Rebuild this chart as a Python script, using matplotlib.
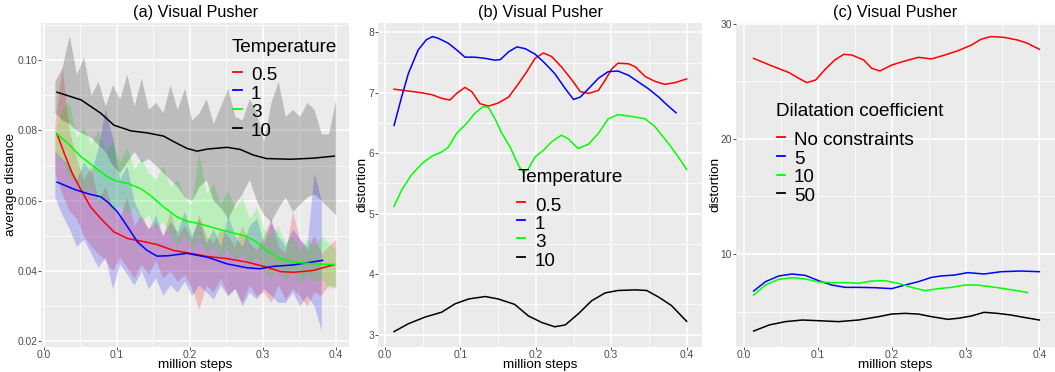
import numpy as np
import matplotlib
matplotlib.use("Agg")
import matplotlib.pyplot as plt
from matplotlib.lines import Line2D
from matplotlib.ticker import FixedLocator

plt.rcParams['font.family'] = ['Liberation Sans', 'DejaVu Sans']

W, H = 1055, 372

# ---------------- data ----------------
temp_labels = ['0.5', '1', '3', '10']
temp_colors = ['#FF0000', '#0000FF', '#00FF00', '#000000']
dil_labels = ['No constraints', '5', '10', '50']
dil_colors = ['#FF0000', '#0000FF', '#00FF00', '#000000']

# panel (a): ribbons (raw spread) on a common step grid
rib_steps = np.linspace(0.015, 0.4, 40)
rib_red_hi = [0.082, 0.098, 0.080, 0.072, 0.066, 0.070, 0.060, 0.064, 0.058, 0.055,
              0.061, 0.053, 0.056, 0.052, 0.054, 0.050, 0.057, 0.050, 0.053, 0.049,
              0.056, 0.050, 0.048, 0.052, 0.050, 0.047, 0.053, 0.048, 0.046, 0.050,
              0.055, 0.047, 0.045, 0.057, 0.049, 0.046, 0.050, 0.045, 0.047, 0.049]
rib_red_lo = [0.068, 0.062, 0.057, 0.055, 0.050, 0.047, 0.045, 0.043, 0.040, 0.044,
              0.041, 0.038, 0.042, 0.039, 0.043, 0.038, 0.040, 0.037, 0.039, 0.035,
              0.029, 0.036, 0.034, 0.038, 0.033, 0.035, 0.031, 0.036, 0.033, 0.034,
              0.031, 0.036, 0.032, 0.035, 0.033, 0.030, 0.034, 0.033, 0.036, 0.035]
rib_blue_hi = [0.074, 0.072, 0.070, 0.066, 0.071, 0.068, 0.075, 0.086, 0.078, 0.066,
               0.070, 0.060, 0.055, 0.052, 0.056, 0.050, 0.054, 0.051, 0.057, 0.050,
               0.055, 0.048, 0.052, 0.047, 0.056, 0.050, 0.047, 0.053, 0.055, 0.048,
               0.054, 0.050, 0.047, 0.052, 0.049, 0.047, 0.068, 0.060]
rib_blue_lo = [0.061, 0.056, 0.052, 0.047, 0.049, 0.045, 0.041, 0.044, 0.035, 0.042,
               0.039, 0.036, 0.040, 0.035, 0.038, 0.033, 0.036, 0.034, 0.037, 0.033,
               0.036, 0.034, 0.032, 0.036, 0.033, 0.035, 0.030, 0.034, 0.032, 0.035,
               0.033, 0.031, 0.031, 0.034, 0.030, 0.033, 0.030, 0.023]
rib_green_hi = [0.080, 0.086, 0.088, 0.078, 0.081, 0.076, 0.080, 0.074, 0.077, 0.071,
                0.075, 0.069, 0.072, 0.068, 0.066, 0.070, 0.064, 0.066, 0.061, 0.059,
                0.074, 0.062, 0.065, 0.059, 0.063, 0.058, 0.061, 0.055, 0.058, 0.052,
                0.050, 0.053, 0.048, 0.050, 0.046, 0.049, 0.047, 0.050, 0.048, 0.046]
rib_green_lo = [0.074, 0.071, 0.067, 0.065, 0.062, 0.064, 0.059, 0.061, 0.057, 0.059,
                0.056, 0.058, 0.054, 0.056, 0.052, 0.054, 0.050, 0.047, 0.050, 0.046,
                0.049, 0.045, 0.047, 0.044, 0.046, 0.043, 0.045, 0.042, 0.044, 0.040,
                0.038, 0.041, 0.037, 0.040, 0.036, 0.039, 0.037, 0.038, 0.035, 0.036]
rib_black_hi = [0.094, 0.098, 0.107, 0.096, 0.101, 0.090, 0.094, 0.087, 0.093, 0.089,
                0.096, 0.087, 0.095, 0.086, 0.088, 0.085, 0.093, 0.086, 0.092, 0.083,
                0.085, 0.089, 0.082, 0.087, 0.092, 0.084, 0.083, 0.089, 0.085, 0.077,
                0.088, 0.094, 0.084, 0.086, 0.084, 0.088, 0.086, 0.079, 0.079, 0.089]
rib_black_lo = [0.085, 0.083, 0.082, 0.080, 0.079, 0.078, 0.076, 0.074, 0.070, 0.068,
                0.071, 0.074, 0.071, 0.072, 0.070, 0.068, 0.066, 0.064, 0.061, 0.060,
                0.064, 0.066, 0.060, 0.058, 0.055, 0.059, 0.062, 0.066, 0.060, 0.056,
                0.054, 0.058, 0.061, 0.057, 0.059, 0.061, 0.062, 0.060, 0.058, 0.056]

# panel (a): smoothed lines
a_red_x = [0.018, 0.028, 0.039, 0.051, 0.064, 0.078, 0.096, 0.115, 0.133, 0.155,
           0.178, 0.196, 0.224, 0.251, 0.278, 0.305, 0.324, 0.342, 0.369, 0.398]
a_red_y = [0.0790, 0.0734, 0.0677, 0.0630, 0.0582, 0.0549, 0.0511, 0.0492, 0.0485, 0.0475,
           0.0458, 0.0452, 0.0441, 0.0435, 0.0425, 0.0411, 0.0398, 0.0396, 0.0401, 0.0418]
a_blue_x = [0.018, 0.042, 0.060, 0.078, 0.088, 0.100, 0.110, 0.118, 0.128, 0.141,
            0.155, 0.170, 0.196, 0.224, 0.251, 0.278, 0.296, 0.315, 0.342, 0.382]
a_blue_y = [0.0653, 0.0632, 0.0620, 0.0611, 0.0595, 0.0570, 0.0540, 0.0515, 0.0483, 0.0459,
            0.0442, 0.0443, 0.0450, 0.0439, 0.0420, 0.0409, 0.0406, 0.0413, 0.0417, 0.0430]
a_green_x = [0.018, 0.033, 0.051, 0.069, 0.087, 0.099, 0.115, 0.133, 0.146, 0.164, 0.183,
             0.196, 0.214, 0.237, 0.260, 0.278, 0.292, 0.305, 0.324, 0.342, 0.369, 0.398]
a_green_y = [0.0790, 0.0763, 0.0725, 0.0696, 0.0668, 0.0656, 0.0649, 0.0634, 0.0615, 0.0582, 0.0553,
             0.0542, 0.0534, 0.0520, 0.0508, 0.0498, 0.0482, 0.0458, 0.0435, 0.0425, 0.0420, 0.0418]
a_black_x = [0.018, 0.051, 0.078, 0.096, 0.119, 0.142, 0.164, 0.178, 0.196, 0.210,
             0.224, 0.251, 0.269, 0.287, 0.305, 0.337, 0.369, 0.398]
a_black_y = [0.0909, 0.0887, 0.0849, 0.0815, 0.0799, 0.0793, 0.0784, 0.0768, 0.0749, 0.0741,
             0.0747, 0.0752, 0.0746, 0.0730, 0.0720, 0.0718, 0.0721, 0.0727]

# panel (b)
b_red_x = [0.012, 0.031, 0.049, 0.062, 0.075, 0.086, 0.095, 0.106, 0.115, 0.126, 0.137,
           0.150, 0.164, 0.177, 0.188, 0.199, 0.210, 0.221, 0.234, 0.248, 0.259, 0.270,
           0.283, 0.292, 0.301, 0.309, 0.323, 0.332, 0.345, 0.358, 0.371, 0.385, 0.400]
b_red_y = [7.06, 7.03, 7.00, 6.97, 6.91, 6.88, 6.99, 7.09, 7.02, 6.82, 6.78,
           6.83, 6.93, 7.15, 7.35, 7.57, 7.66, 7.60, 7.43, 7.21, 7.02, 6.99,
           7.04, 7.21, 7.40, 7.49, 7.48, 7.43, 7.27, 7.19, 7.14, 7.17, 7.23]
b_blue_x = [0.012, 0.022, 0.031, 0.044, 0.055, 0.063, 0.071, 0.084, 0.095, 0.106, 0.119,
            0.133, 0.146, 0.153, 0.164, 0.175, 0.186, 0.199, 0.212, 0.225, 0.239, 0.250,
            0.259, 0.270, 0.283, 0.296, 0.309, 0.323, 0.336, 0.349, 0.363, 0.374, 0.386]
b_blue_y = [6.46, 6.93, 7.32, 7.71, 7.88, 7.93, 7.90, 7.82, 7.71, 7.59, 7.59,
            7.57, 7.54, 7.55, 7.68, 7.76, 7.73, 7.64, 7.49, 7.32, 7.07, 6.89,
            6.93, 7.07, 7.24, 7.35, 7.36, 7.29, 7.18, 7.07, 6.93, 6.80, 6.67]
b_green_x = [0.012, 0.022, 0.035, 0.049, 0.062, 0.075, 0.084, 0.095, 0.108, 0.119, 0.130,
             0.137, 0.146, 0.155, 0.166, 0.177, 0.183, 0.190, 0.199, 0.210, 0.221, 0.234,
             0.243, 0.256, 0.270, 0.283, 0.296, 0.309, 0.327, 0.345, 0.358, 0.376, 0.389, 0.400]
b_green_y = [5.12, 5.39, 5.64, 5.83, 5.95, 6.02, 6.10, 6.33, 6.49, 6.66, 6.77,
             6.76, 6.57, 6.33, 6.10, 5.80, 5.69, 5.74, 5.94, 6.05, 6.19, 6.30,
             6.24, 6.08, 6.15, 6.33, 6.57, 6.64, 6.61, 6.57, 6.44, 6.16, 5.94, 5.73]
b_black_x = [0.012, 0.031, 0.053, 0.075, 0.093, 0.111, 0.133, 0.150, 0.172, 0.190, 0.208,
             0.225, 0.239, 0.256, 0.274, 0.292, 0.309, 0.332, 0.347, 0.363, 0.380, 0.400]
b_black_y = [3.05, 3.18, 3.29, 3.37, 3.51, 3.59, 3.63, 3.59, 3.50, 3.31, 3.20,
             3.13, 3.16, 3.34, 3.56, 3.69, 3.73, 3.74, 3.73, 3.62, 3.48, 3.22]

# panel (c)
c_red_x = [0.013, 0.038, 0.061, 0.074, 0.085, 0.097, 0.110, 0.123, 0.135, 0.146, 0.162,
           0.173, 0.184, 0.200, 0.218, 0.236, 0.254, 0.272, 0.290, 0.308, 0.321, 0.334,
           0.352, 0.370, 0.384, 0.400]
c_red_y = [27.0, 26.35, 25.77, 25.28, 24.9, 25.13, 26.06, 26.87, 27.36, 27.30, 26.87,
           26.14, 25.91, 26.43, 26.78, 27.10, 26.96, 27.30, 27.68, 28.17, 28.67, 28.90,
           28.84, 28.61, 28.32, 27.80]
c_blue_x = [0.013, 0.029, 0.047, 0.065, 0.083, 0.101, 0.119, 0.137, 0.155, 0.177, 0.200,
            0.218, 0.236, 0.254, 0.267, 0.285, 0.303, 0.325, 0.348, 0.375, 0.400]
c_blue_y = [6.78, 7.59, 8.09, 8.26, 8.14, 7.68, 7.30, 7.10, 7.10, 7.07, 6.99,
            7.30, 7.59, 7.97, 8.09, 8.17, 8.38, 8.26, 8.46, 8.52, 8.46]
c_green_x = [0.013, 0.029, 0.047, 0.065, 0.083, 0.101, 0.119, 0.141, 0.155, 0.173, 0.191,
             0.209, 0.227, 0.245, 0.263, 0.281, 0.299, 0.316, 0.334, 0.352, 0.370, 0.384]
c_green_y = [6.43, 7.30, 7.80, 7.94, 7.83, 7.57, 7.51, 7.51, 7.45, 7.65, 7.68,
             7.45, 7.10, 6.81, 6.99, 7.10, 7.30, 7.30, 7.16, 6.99, 6.81, 6.64]
c_black_x = [0.013, 0.034, 0.056, 0.079, 0.101, 0.128, 0.155, 0.182, 0.200, 0.218, 0.236,
             0.254, 0.276, 0.290, 0.308, 0.325, 0.343, 0.361, 0.379, 0.400]
c_black_y = [3.30, 3.83, 4.12, 4.26, 4.20, 4.12, 4.26, 4.55, 4.78, 4.84, 4.78,
             4.55, 4.32, 4.41, 4.61, 4.93, 4.84, 4.70, 4.49, 4.26]

x_ticks = [0.0, 0.1, 0.2, 0.3, 0.4]
x_ticklabels = ['0.0', '0.1', '0.2', '0.3', '0.4']
a_yticks = [0.02, 0.04, 0.06, 0.08, 0.10]
a_yticklabels = ['0.02', '0.04', '0.06', '0.08', '0.10']
b_yticks = [3, 4, 5, 6, 7, 8]
b_yticklabels = ['3', '4', '5', '6', '7', '8']
c_yticks = [10, 20, 30]
c_yticklabels = ['10', '20', '30']

# ---------------- figure ----------------
fig = plt.figure(figsize=(W / 100, H / 100), dpi=100)
fig.patch.set_facecolor('white')


def px_axes(x0, x1, y0, y1):
    return fig.add_axes([x0 / W, 1 - y1 / H, (x1 - x0) / W, (y1 - y0) / H])


ax_a = px_axes(41, 349.3, 22.7, 346.7)
ax_b = px_axes(378.3, 701.7, 22.7, 346.7)
ax_c = px_axes(735.7, 1054.5, 22.7, 346.7)

TICK_FS = 7.4
LAB_FS = 9.7
TITLE_FS = 11.7
LEG_FS = 13.6


def style(ax, xlim, ylim, yticks, yticklabels, xminor, yminor, ylabel, title, ylab_x):
    ax.set_facecolor('#EBEBEB')
    for s in ax.spines.values():
        s.set_visible(False)
    ax.set_xlim(*xlim)
    ax.set_ylim(*ylim)
    ax.set_xticks(x_ticks)
    ax.set_xticklabels(x_ticklabels)
    ax.set_yticks(yticks)
    ax.set_yticklabels(yticklabels)
    ax.xaxis.set_minor_locator(FixedLocator(xminor))
    ax.yaxis.set_minor_locator(FixedLocator(yminor))
    ax.grid(which='major', color='white', lw=1.1, zorder=0)
    ax.grid(which='minor', color='white', lw=0.55, zorder=0)
    ax.set_axisbelow(True)
    ax.tick_params(which='major', length=2.2, width=0.6, color='#333333',
                   labelsize=TICK_FS, labelcolor='#4D4D4D', pad=0.5)
    ax.tick_params(which='minor', length=0)
    ax.set_xlabel('million steps', fontsize=LAB_FS)
    ax.xaxis.label.set_verticalalignment('baseline')
    ax.xaxis.set_label_coords(0.5, (H - 367.7 - (H - 346.7)) / 324.0)
    ax.set_ylabel(ylabel, fontsize=LAB_FS)
    ax.yaxis.label.set_verticalalignment('baseline')
    ax.yaxis.set_label_coords(ylab_x, 0.5)
    ax.set_title(title, fontsize=TITLE_FS, pad=4.3)


style(ax_a, (-0.004, 0.4186), (0.0184, 0.1107), a_yticks, a_yticklabels,
      [0.05, 0.15, 0.25, 0.35], [0.03, 0.05, 0.07, 0.09, 0.11],
      'average distance', '(a) Visual Pusher', (14.3 - 41) / 308.3)
style(ax_b, (-0.0089, 0.42), (2.80, 8.16), b_yticks, b_yticklabels,
      [0.05, 0.15, 0.25, 0.35], [3.5, 4.5, 5.5, 6.5, 7.5],
      'distortion', '(b) Visual Pusher', (365.5 - 378.3) / 323.4)
style(ax_c, (-0.0113, 0.4205), (1.94, 30.11), c_yticks, c_yticklabels,
      [0.05, 0.15, 0.25, 0.35], [5, 15, 25],
      'distortion', '(c) Visual Pusher', (718 - 735.7) / 318.8)

# panel (a) ribbons
ribbons = [(rib_red_hi, rib_red_lo), (rib_blue_hi, rib_blue_lo),
           (rib_green_hi, rib_green_lo), (rib_black_hi, rib_black_lo)]
for (hi, lo), col in zip(ribbons, temp_colors):
    n = len(hi)
    ax_a.fill_between(rib_steps[:n], lo, hi, color=col, alpha=0.2, lw=0, zorder=2)

LW = 1.1
for xs, ys, col in zip([a_red_x, a_blue_x, a_green_x, a_black_x],
                       [a_red_y, a_blue_y, a_green_y, a_black_y], temp_colors):
    ax_a.plot(xs, ys, color=col, lw=LW, zorder=3)
for xs, ys, col in zip([b_red_x, b_blue_x, b_green_x, b_black_x],
                       [b_red_y, b_blue_y, b_green_y, b_black_y], temp_colors):
    ax_b.plot(xs, ys, color=col, lw=LW, zorder=3)
for xs, ys, col in zip([c_red_x, c_blue_x, c_green_x, c_black_x],
                       [c_red_y, c_blue_y, c_green_y, c_black_y], dil_colors):
    ax_c.plot(xs, ys, color=col, lw=LW, zorder=3)


# ---------------- legends (ggplot style, no frame) ----------------
def legend(title, labels, colors, tx, tbase, first_base, step, key_x0, key_dy, lab_x):
    fig.text(tx / W, 1 - tbase / H, title, fontsize=LEG_FS, ha='left', va='baseline')
    for i, (lab, col) in enumerate(zip(labels, colors)):
        base = first_base + i * step
        ky = base - key_dy
        fig.add_artist(Line2D([key_x0 / W, (key_x0 + 8.5) / W], [1 - ky / H, 1 - ky / H],
                              color=col, lw=1.3, transform=fig.transFigure))
        fig.text(lab_x / W, 1 - base / H, lab, fontsize=LEG_FS, ha='left', va='baseline')


legend('Temperature', temp_labels, temp_colors, 231.5, 51.7, 80.0, 18.67, 233, 8.3, 251)
legend('Temperature', temp_labels, temp_colors, 517.5, 181.7, 210.7, 18.35, 516.7, 9.0, 535)
legend('Dilatation coefficient', dil_labels, dil_colors, 776, 116, 145, 18.6, 776.7, 7.7, 794)

fig.savefig('out.png', dpi=100)
